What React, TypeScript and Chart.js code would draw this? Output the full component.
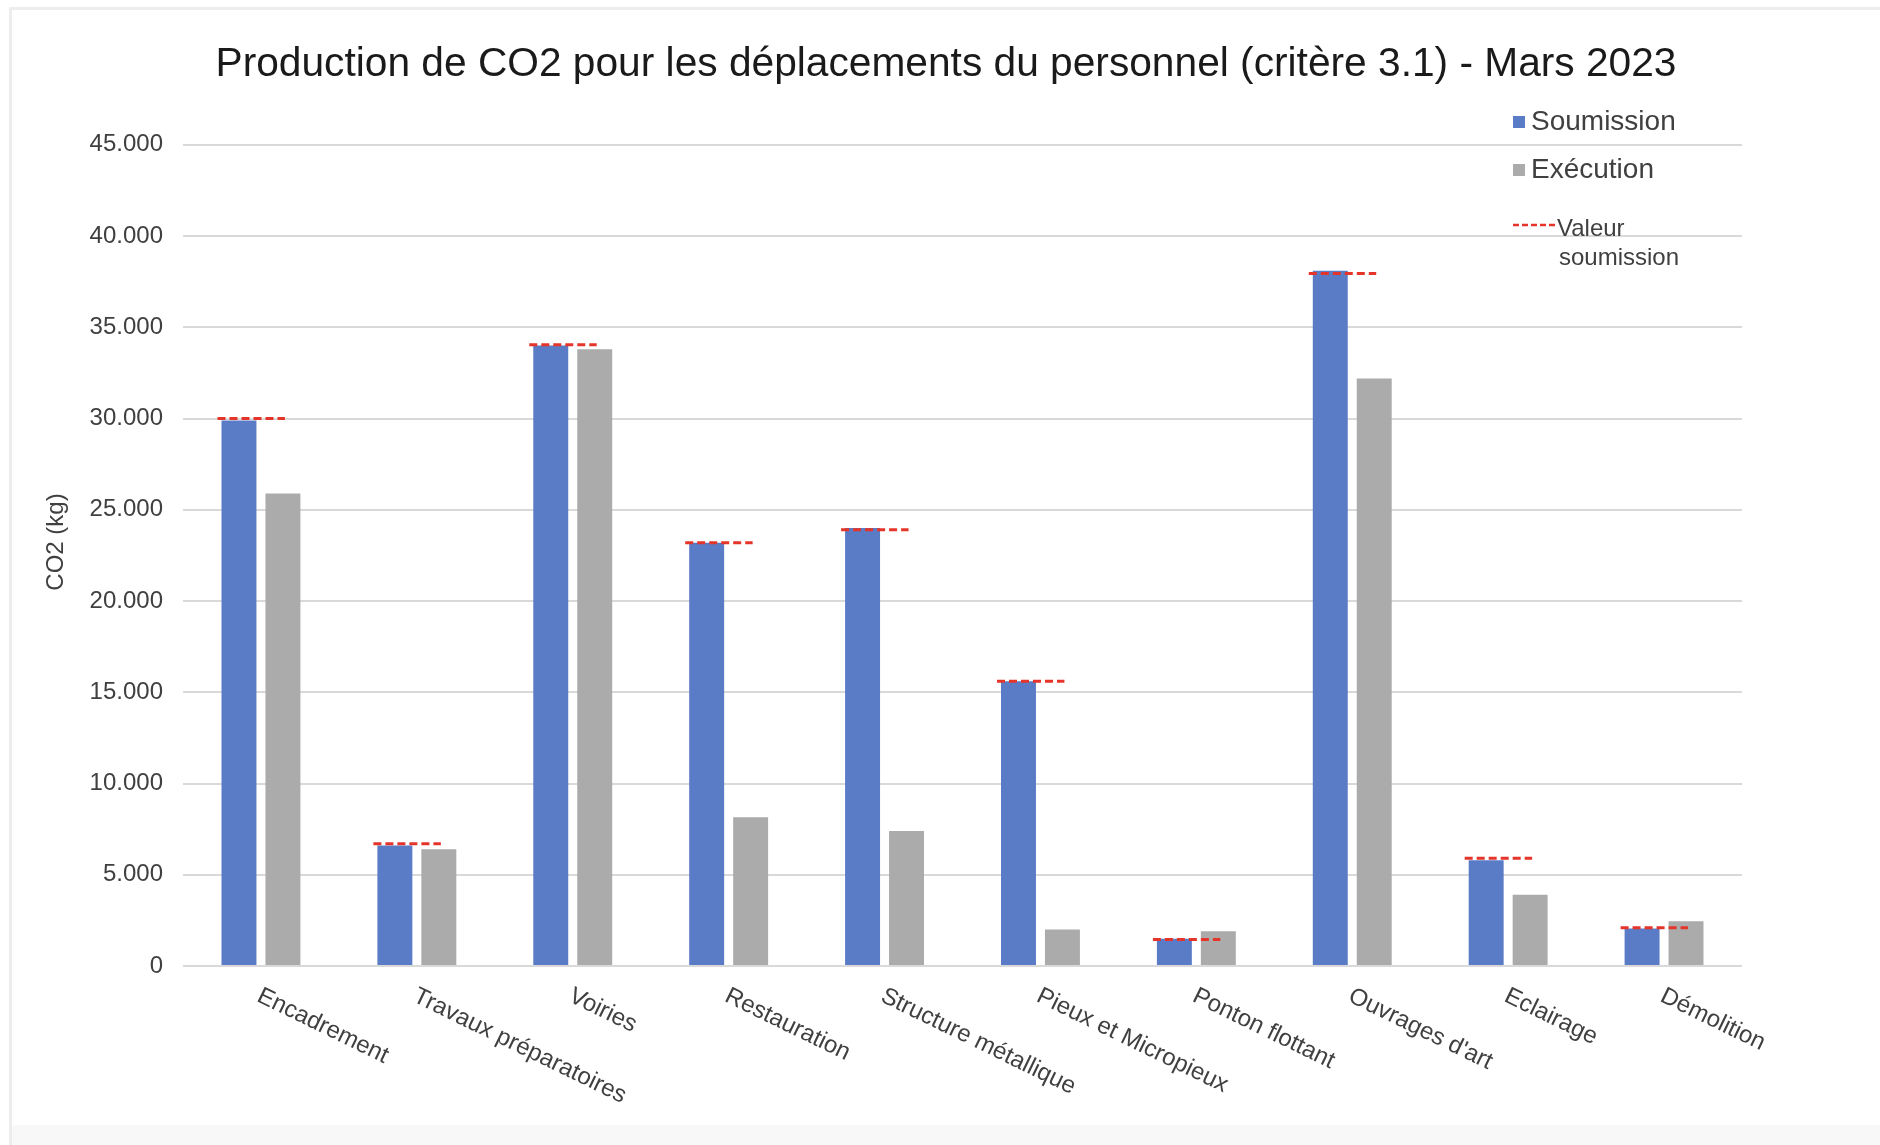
import React, { useEffect, useRef } from 'react';
import { Chart, registerables } from 'chart.js';

Chart.register(...registerables);

const FONT = "'Liberation Sans', Arial, Helvetica, sans-serif";

const chartTitle = 'Production de CO2 pour les déplacements du personnel (critère 3.1) - Mars 2023';
const yAxisTitle = 'CO2 (kg)';
const categories = [
  'Encadrement',
  'Travaux préparatoires',
  'Voiries',
  'Restauration',
  'Structure métallique',
  'Pieux et Micropieux',
  'Ponton flottant',
  "Ouvrages d'art",
  'Eclairage',
  'Démolition',
];
const seriesLabels = ['Soumission', 'Exécution', 'Valeur soumission'];
const legendLines = [['Soumission'], ['Exécution'], ['Valeur', 'soumission']];
const soumission = [29900, 6600, 34000, 23200, 24000, 15600, 1500, 38100, 5800, 2050];
const execution = [25900, 6400, 33800, 8150, 7400, 2000, 1900, 32200, 3900, 2450];
const valeurSoumission = [30000, 6700, 34050, 23200, 23900, 15600, 1450, 37950, 5900, 2100];
const yMin = 0;
const yMax = 45000;
const yStep = 5000;

const BLUE = '#5A7BC6';
const GRAY = '#ABABAB';
const RED = '#E5352A';
const TEXT = '#404040';

const fmt = (v: number) => String(v).replace(/\B(?=(\d{3})+(?!\d))/g, '.');

const dashPlugin = {
  id: 'valeurDash',
  afterDatasetsDraw(chart: any) {
    const ctx = chart.ctx;
    const yScale = chart.scales.y;
    const m0 = chart.getDatasetMeta(0);
    const m1 = chart.getDatasetMeta(1);
    const vals = chart.data.datasets[2].data as number[];
    ctx.save();
    ctx.strokeStyle = RED;
    ctx.lineWidth = 3;
    ctx.setLineDash([8, 4]);
    vals.forEach((v, i) => {
      const b = m0.data[i];
      const g = m1.data[i];
      if (!b || !g) return;
      const y = yScale.getPixelForValue(v);
      const x1 = b.x - b.width / 2 - 4;
      const x2 = g.x + 2;
      ctx.beginPath();
      ctx.moveTo(x1, y);
      ctx.lineTo(x2, y);
      ctx.stroke();
    });
    ctx.restore();
  },
};

const xLabelPlugin = {
  id: 'rotatedXLabels',
  afterDraw(chart: any) {
    const ctx = chart.ctx;
    const xs = chart.scales.x;
    ctx.save();
    ctx.font = `24px ${FONT}`;
    ctx.fillStyle = TEXT;
    ctx.textAlign = 'left';
    ctx.textBaseline = 'top';
    (chart.data.labels as string[]).forEach((lab, i) => {
      const px = xs.getPixelForTick(i);
      ctx.save();
      ctx.translate(px + 3, xs.top + 18);
      ctx.rotate((26 * Math.PI) / 180);
      ctx.fillText(lab, 0, 0);
      ctx.restore();
    });
    ctx.restore();
  },
};

const yTitlePlugin = {
  id: 'yTitle',
  afterDraw(chart: any) {
    const ctx = chart.ctx;
    ctx.save();
    ctx.font = `24px ${FONT}`;
    ctx.fillStyle = TEXT;
    ctx.textAlign = 'center';
    ctx.textBaseline = 'middle';
    ctx.translate(56, 542);
    ctx.rotate(-Math.PI / 2);
    ctx.fillText(yAxisTitle, 0, 0);
    ctx.restore();
  },
};

const legendPlugin = {
  id: 'customLegend',
  afterDraw(chart: any) {
    const ctx = chart.ctx;
    ctx.save();
    ctx.textAlign = 'left';
    ctx.textBaseline = 'middle';
    // Soumission
    ctx.fillStyle = chart.data.datasets[0].backgroundColor;
    ctx.fillRect(1513, 116, 12, 12);
    ctx.fillStyle = TEXT;
    ctx.font = `28px ${FONT}`;
    ctx.fillText(legendLines[0][0], 1531, 122);
    // Exécution
    ctx.fillStyle = chart.data.datasets[1].backgroundColor;
    ctx.fillRect(1513, 164, 12, 12);
    ctx.fillStyle = TEXT;
    ctx.fillText(legendLines[1][0], 1531, 170);
    // Valeur soumission
    ctx.strokeStyle = RED;
    ctx.lineWidth = 2.5;
    ctx.setLineDash([6, 3]);
    ctx.beginPath();
    ctx.moveTo(1513, 225);
    ctx.lineTo(1555, 225);
    ctx.stroke();
    ctx.setLineDash([]);
    ctx.font = `24px ${FONT}`;
    ctx.fillText(legendLines[2][0], 1557, 229);
    ctx.fillText(legendLines[2][1], 1559, 258);
    ctx.restore();
  },
};

export default function App() {
  const ref = useRef<HTMLCanvasElement>(null);

  useEffect(() => {
    if (!ref.current) return;
    const chart = new Chart(ref.current, {
      type: 'bar',
      data: {
        labels: categories,
        datasets: [
          {
            type: 'bar',
            label: seriesLabels[0],
            data: soumission,
            backgroundColor: BLUE,
            categoryPercentage: 0.564,
            barPercentage: 0.795,
          },
          {
            type: 'bar',
            label: seriesLabels[1],
            data: execution,
            backgroundColor: GRAY,
            categoryPercentage: 0.564,
            barPercentage: 0.795,
          },
          {
            type: 'line',
            label: seriesLabels[2],
            data: valeurSoumission,
            showLine: false,
            pointRadius: 0,
            borderColor: RED,
            backgroundColor: RED,
          } as any,
        ],
      },
      options: {
        responsive: false,
        maintainAspectRatio: false,
        animation: false,
        layout: { padding: { top: 0, right: 0, bottom: 0, left: 12 } },
        plugins: {
          legend: { display: false },
          tooltip: { enabled: false },
          title: {
            display: true,
            text: chartTitle,
            color: '#1A1A1A',
            font: { size: 40.7, weight: 'normal', family: FONT },
            padding: { top: 40, bottom: 56 },
          },
        },
        scales: {
          x: {
            offset: true,
            grid: { display: false },
            border: { display: false },
            ticks: { display: false },
            afterFit: (s: any) => {
              s.height = 179;
            },
          },
          y: {
            min: yMin,
            max: yMax,
            ticks: {
              stepSize: yStep,
              padding: 20,
              color: TEXT,
              font: { size: 24, family: FONT },
              callback: (v: any) => fmt(Number(v)),
            },
            grid: { color: '#D9D9D9', lineWidth: 2, drawTicks: false },
            border: { display: false },
            title: { display: false },
            afterFit: (s: any) => {
              s.width = 171;
            },
          },
          yRight: {
            position: 'right',
            display: true,
            grid: { display: false, drawTicks: false },
            border: { display: false },
            ticks: { display: false },
            afterFit: (s: any) => {
              s.width = 138;
            },
          },
        },
      } as any,
      plugins: [dashPlugin, xLabelPlugin, yTitlePlugin, legendPlugin],
    });
    return () => chart.destroy();
  }, []);

  return (
    <div style={{ position: 'fixed', left: 0, top: 0, width: 1880, height: 1145, background: '#FFFFFF', overflow: 'hidden' }}>
      <div
        style={{
          position: 'absolute',
          left: 9,
          top: 7,
          right: -10,
          bottom: -10,
          borderTop: '3px solid #EDEDED',
          borderLeft: '3px solid #EDEDED',
        }}
      />
      <div style={{ position: 'absolute', left: 12, right: 0, bottom: 0, height: 20, background: '#F8F8F8' }} />
      <canvas
        ref={ref}
        width={1880}
        height={1145}
        style={{ position: 'absolute', left: 0, top: 0, width: 1880, height: 1145 }}
      />
    </div>
  );
}
